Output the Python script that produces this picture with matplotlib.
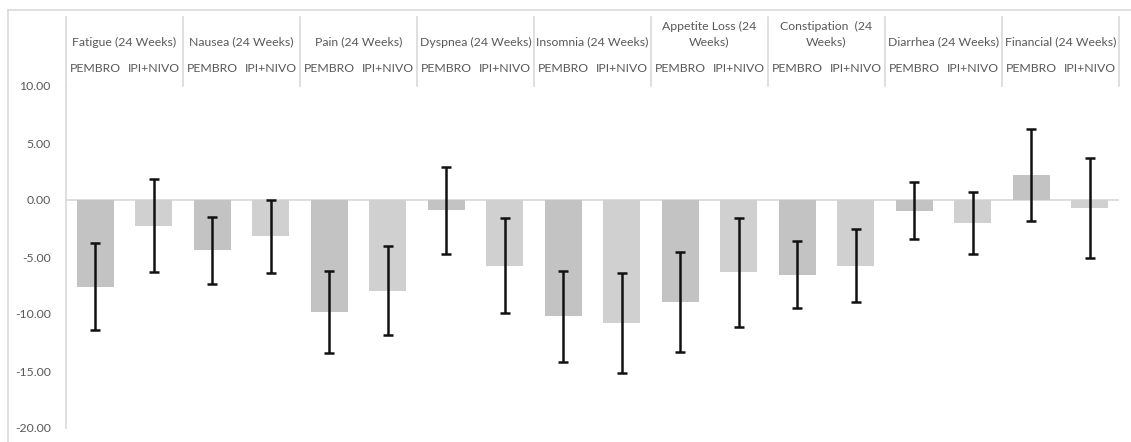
import matplotlib
matplotlib.use("Agg")
import matplotlib.pyplot as plt
from matplotlib.lines import Line2D
import matplotlib.transforms as mtransforms
import numpy as np

plt.rcParams["font.family"] = ["Lato", "DejaVu Sans"]
plt.rcParams["axes.unicode_minus"] = False

# Change from baseline at 24 weeks, by symptom scale and treatment arm
categories = [
    "Fatigue (24 Weeks)", "Nausea (24 Weeks)", "Pain (24 Weeks)",
    "Dyspnea (24 Weeks)", "Insomnia (24 Weeks)", "Appetite Loss (24\nWeeks)",
    "Constipation  (24\nWeeks)", "Diarrhea (24 Weeks)", "Financial (24 Weeks)",
]
arms = ["PEMBRO", "IPI+NIVO"]
pembro_mean = [-7.6, -4.4, -9.8, -0.9, -10.2, -8.95, -6.55, -0.95, 2.2]
pembro_err = [3.8, 2.95, 3.6, 3.8, 4.0, 4.35, 2.95, 2.5, 4.05]
ipinivo_mean = [-2.25, -3.2, -7.95, -5.75, -10.8, -6.35, -5.75, -2.0, -0.7]
ipinivo_err = [4.1, 3.2, 3.9, 4.15, 4.4, 4.75, 3.2, 2.7, 4.4]
yticks = [-20, -15, -10, -5, 0, 5, 10]

W, H = 1131, 442
fig = plt.figure(figsize=(W / 100, H / 100), dpi=100)

# plot area in pixel coordinates
left_px, right_px = 66, 1119
top_px, bottom_px = 86, 428
ax = fig.add_axes([left_px / W, 1 - bottom_px / H,
                   (right_px - left_px) / W, (bottom_px - top_px) / H])

text_color = "#595959"
line_color = "#d9d9d9"
c_pembro = "#c3c3c3"
c_ipinivo = "#d0d0d0"
fs = 8.8

n = len(categories)
x = np.arange(n)
off = 0.25
bw = 0.315
err_kw = dict(ecolor="#111111", elinewidth=1.8, capsize=3.6, capthick=1.8)

ax.bar(x - off, pembro_mean, width=bw, color=c_pembro, zorder=2)
ax.bar(x + off, ipinivo_mean, width=bw, color=c_ipinivo, zorder=2)
ax.errorbar(x - off, pembro_mean, yerr=pembro_err, fmt="none", zorder=3, **err_kw)
ax.errorbar(x + off, ipinivo_mean, yerr=ipinivo_err, fmt="none", zorder=3, **err_kw)

ax.axhline(0, color=line_color, lw=1.2, zorder=1)

ax.set_xlim(-0.5, n - 0.5)
ax.set_ylim(-20, 10)
ax.set_yticks(yticks)
ax.set_yticklabels([f"{v:.2f}" for v in yticks])
ax.tick_params(axis="y", length=0, pad=11, labelsize=fs, labelcolor=text_color)
ax.tick_params(axis="x", bottom=False, labelbottom=False)
for s in ["top", "right", "bottom"]:
    ax.spines[s].set_visible(False)
ax.spines["left"].set_color(line_color)
ax.spines["left"].set_linewidth(1.2)

# category labels drawn above the plot area
plot_h = bottom_px - top_px
def ay(px):
    return 1 + (top_px - px) / plot_h

trans = mtransforms.blended_transform_factory(ax.transData, ax.transAxes)
sep_top = ay(17)
for b in np.arange(n + 1) - 0.5:
    ax.add_line(Line2D([b, b], [1, sep_top], transform=trans, color=line_color,
                       lw=1.2, clip_on=False))
for i, cat in enumerate(categories):
    yc = ay(34) if "\n" in cat else ay(42)
    ax.text(i, yc, cat, transform=trans, ha="center", va="center",
            fontsize=fs, color=text_color, linespacing=1.4, clip_on=False)
    ax.text(i - off, ay(68), arms[0], transform=trans, ha="center", va="center",
            fontsize=fs, color=text_color, clip_on=False)
    ax.text(i + off, ay(68), arms[1], transform=trans, ha="center", va="center",
            fontsize=fs, color=text_color, clip_on=False)

# chart border
fig.add_artist(Line2D([8 / W, 1], [1 - 10 / H, 1 - 10 / H], color=line_color, lw=1.2))
fig.add_artist(Line2D([8 / W, 8 / W], [0, 1 - 10 / H], color=line_color, lw=1.2))

fig.savefig("out.png", dpi=100, facecolor="white")
